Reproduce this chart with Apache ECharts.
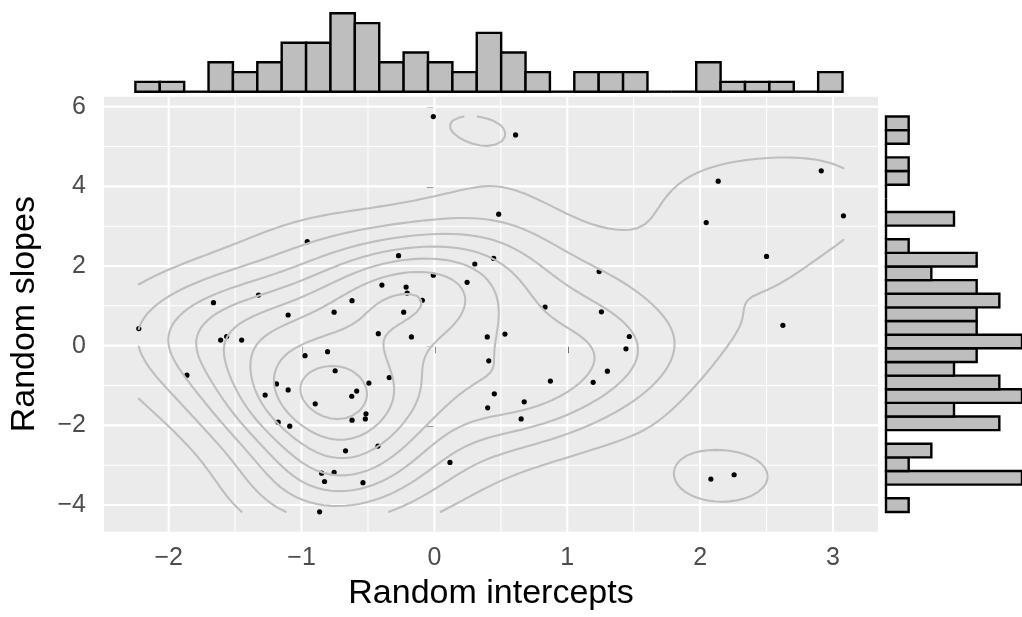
<!DOCTYPE html>
<html>
<head>
<meta charset="utf-8">
<script src="https://cdn.jsdelivr.net/npm/echarts@6/dist/echarts.min.js"></script>
<style>
  html, body { margin: 0; padding: 0; background: #fff; }
  #chart { width: 1022px; height: 617px; }
</style>
</head>
<body>
<div id="chart"></div>
<script>
// points
var interceptVals = [-0.008, 0.484, -0.957, -0.270, 0.446, 0.304, -0.008, 0.246, -1.663, -1.324,
  -1.101, -0.755, -0.620, -0.395, -0.213, -0.205, -0.091, -0.231, 0.611, 2.136,
  2.912, 3.079, 2.046, 2.500, 1.240, 0.833, 1.257, 2.623, -2.225, -0.422,
  -0.173, 0.398, 0.531, -1.564, -1.609, -1.451, 0.409, -0.974, -0.804, -1.863,
  -0.747, -0.340, -0.493, -1.189, -1.101, -0.585, -0.622, -1.274, -0.897, -0.515,
  -0.520, -0.620, -1.176, -1.089, -0.425, -0.669, 0.117, -0.849, -0.755, -0.827,
  -0.538, -0.864, 0.401, 0.451, 1.467, 1.442, 1.302, 1.195, 0.873, 0.676,
  0.653, 2.081, 2.256];
var slopeVals = [5.75, 3.30, 2.61, 2.26, 2.19, 2.05, 1.77, 1.59, 1.08, 1.27,
  0.77, 0.84, 1.13, 1.52, 1.47, 1.32, 1.14, 0.84, 5.29, 4.13,
  4.39, 3.26, 3.09, 2.24, 1.86, 0.97, 0.85, 0.51, 0.43, 0.30,
  0.22, 0.22, 0.29, 0.23, 0.14, 0.14, -0.38, -0.25, -0.15, -0.74,
  -0.63, -0.80, -0.94, -0.96, -1.11, -1.14, -1.27, -1.24, -1.46, -1.71,
  -1.84, -1.87, -1.92, -2.02, -2.52, -2.64, -2.93, -3.20, -3.18, -3.41,
  -3.44, -4.17, -1.56, -1.21, 0.23, -0.08, -0.64, -0.92, -0.89, -1.41,
  -1.84, -3.35, -3.24];

var xTicks = [-2, -1, 0, 1, 2, 3];
var xMinor = [-1.5, -0.5, 0.5, 1.5, 2.5];
var yTicks = [-4, -2, 0, 2, 4, 6];
var yMinor = [-3, -1, 1, 3, 5];

// marginal histograms (counts per bin)
var topBinStart = -2.222, topBinWidth = 0.1826;
var topCounts = [1, 1, 0, 3, 2, 3, 5, 5, 8, 7, 3, 4, 3, 2, 6, 4, 2, 0, 2, 2, 2, 0, 0, 3, 1, 1, 1, 0, 2];
var rightBinStart = -4.174, rightBinWidth = 0.3423;
var rightCounts = [1, 0, 6, 1, 2, 0, 5, 3, 6, 5, 3, 4, 6, 4, 4, 5, 4, 2, 4, 1, 0, 3, 0, 0, 1, 1, 0, 1, 1];

var xMin = -2.487, xMax = 3.339, yMin = -4.67, yMax = 6.25;
var contourBins = 10;

// ---- 2d density (like MASS::kde2d with bandwidth.nrd) ----
function quantile(arr, p) {
  var s = arr.slice().sort(function (a, b) { return a - b; });
  var h = (s.length - 1) * p, lo = Math.floor(h);
  var hi = Math.min(lo + 1, s.length - 1);
  return s[lo] + (h - lo) * (s[hi] - s[lo]);
}
function bandwidthNrd(x) {
  var n = x.length, m = 0, v = 0;
  x.forEach(function (d) { m += d; });
  m /= n;
  x.forEach(function (d) { v += (d - m) * (d - m); });
  v /= (n - 1);
  var iqr = (quantile(x, 0.75) - quantile(x, 0.25)) / 1.34;
  return 4 * 1.06 * Math.min(Math.sqrt(v), iqr) * Math.pow(n, -0.2);
}
function dnorm(u) { return Math.exp(-0.5 * u * u) / Math.sqrt(2 * Math.PI); }

var N = 100;
var lx0 = Math.min.apply(null, interceptVals), lx1 = Math.max.apply(null, interceptVals);
var ly0 = Math.min.apply(null, slopeVals), ly1 = Math.max.apply(null, slopeVals);
var hx = bandwidthNrd(interceptVals) / 4, hy = bandwidthNrd(slopeVals) / 4;
var gx = [], gy = [];
for (var i = 0; i < N; i++) {
  gx.push(lx0 + (lx1 - lx0) * i / (N - 1));
  gy.push(ly0 + (ly1 - ly0) * i / (N - 1));
}
var z = [], zlo = Infinity, zhi = -Infinity;
for (var i = 0; i < N; i++) {
  z.push([]);
  for (var j = 0; j < N; j++) {
    var s = 0;
    for (var k = 0; k < interceptVals.length; k++) {
      s += dnorm((gx[i] - interceptVals[k]) / hx) * dnorm((gy[j] - slopeVals[k]) / hy);
    }
    s /= (interceptVals.length * hx * hy);
    z[i].push(s);
    if (s < zlo) zlo = s;
    if (s > zhi) zhi = s;
  }
}

// contour breaks the way ggplot2 does it when bins is given
function binBreaks(lo, hi, bins) {
  var d = hi - lo;
  var p = Math.pow(10, Math.floor(Math.log10(d)));
  var acc = Math.round(d / p) * p / 10;
  lo = Math.floor(lo / acc) * acc;
  hi = Math.ceil(hi / acc) * acc;
  var bw = (hi - lo) / (bins - 1);
  var out = [];
  for (var k = Math.floor(lo / bw + 1e-9); k <= Math.ceil(hi / bw - 1e-9); k++) out.push(k * bw);
  return out;
}

function isoSegments(L) {
  var segs = [];
  function pt(i1, j1, i2, j2) {
    var v1 = z[i1][j1], v2 = z[i2][j2], t = (L - v1) / (v2 - v1);
    return [gx[i1] + t * (gx[i2] - gx[i1]), gy[j1] + t * (gy[j2] - gy[j1])];
  }
  for (var i = 0; i < N - 1; i++) {
    for (var j = 0; j < N - 1; j++) {
      var a = z[i][j], b = z[i + 1][j], c = z[i + 1][j + 1], d = z[i][j + 1];
      var A = a >= L, B = b >= L, C = c >= L, D = d >= L;
      var e = {};
      if (A !== B) e.bottom = ['h' + i + '_' + j, pt(i, j, i + 1, j)];
      if (B !== C) e.right = ['v' + (i + 1) + '_' + j, pt(i + 1, j, i + 1, j + 1)];
      if (D !== C) e.top = ['h' + i + '_' + (j + 1), pt(i, j + 1, i + 1, j + 1)];
      if (A !== D) e.left = ['v' + i + '_' + j, pt(i, j, i, j + 1)];
      var ks = Object.keys(e);
      if (ks.length === 2) {
        segs.push([e[ks[0]][0], e[ks[0]][1], e[ks[1]][0], e[ks[1]][1]]);
      } else if (ks.length === 4) {
        var centre = (a + b + c + d) / 4 >= L;
        var pairs = (A === centre) ? [['bottom', 'right'], ['top', 'left']] : [['bottom', 'left'], ['right', 'top']];
        pairs.forEach(function (p) {
          segs.push([e[p[0]][0], e[p[0]][1], e[p[1]][0], e[p[1]][1]]);
        });
      }
    }
  }
  return segs;
}

function joinSegments(segs) {
  var byKey = {};
  segs.forEach(function (s, idx) {
    (byKey[s[0]] = byKey[s[0]] || []).push(idx);
    (byKey[s[2]] = byKey[s[2]] || []).push(idx);
  });
  var used = segs.map(function () { return false; });
  var lines = [];
  function walk(idx, key) {
    var s = segs[idx];
    var pts = [key === s[0] ? s[1] : s[3]];
    while (idx !== -1 && !used[idx]) {
      used[idx] = true;
      s = segs[idx];
      var otherKey = key === s[0] ? s[2] : s[0];
      pts.push(key === s[0] ? s[3] : s[1]);
      var next = -1;
      (byKey[otherKey] || []).forEach(function (m) { if (!used[m]) next = m; });
      idx = next;
      key = otherKey;
    }
    return pts;
  }
  Object.keys(byKey).forEach(function (key) {
    if (byKey[key].length === 1 && !used[byKey[key][0]]) lines.push(walk(byKey[key][0], key));
  });
  segs.forEach(function (s, idx) { if (!used[idx]) lines.push(walk(idx, s[0])); });
  return lines;
}

var contourLines = [];
binBreaks(zlo, zhi, contourBins).forEach(function (L) {
  if (L <= zlo || L >= zhi) return;
  contourLines = contourLines.concat(joinSegments(isoSegments(L)));
});

// ---- chart ----
var minus = function (v) { return v < 0 ? '\u2212' + Math.abs(v) : String(v); };
var font = 'Liberation Sans';

var topData = topCounts.map(function (c, i) {
  return [topBinStart + i * topBinWidth, topBinStart + (i + 1) * topBinWidth, c];
});
var rightData = rightCounts.map(function (c, i) {
  return [rightBinStart + i * rightBinWidth, rightBinStart + (i + 1) * rightBinWidth, c];
});
var gridX = xMinor.map(function (v) { return [v, 1.05]; }).concat(xTicks.map(function (v) { return [v, 2.1]; }));
var gridY = yMinor.map(function (v) { return [v, 1.05]; }).concat(yTicks.map(function (v) { return [v, 2.1]; }));

var chart = echarts.init(document.getElementById('chart'), null, { renderer: 'canvas' });
chart.setOption({
  animation: false,
  backgroundColor: '#ffffff',
  textStyle: { fontFamily: font },
  grid: [
    { left: 100, top: 96.7, width: 778, height: 435, show: true, backgroundColor: '#EBEBEB', borderWidth: 0 },
    { left: 100, top: 13.3, width: 778, height: 78.4, show: false },
    { left: 886, top: 96.7, width: 140.4, height: 435, show: false }
  ],
  xAxis: [
    {
      gridIndex: 0, type: 'value', min: xMin, max: xMax,
      name: 'Random intercepts', nameLocation: 'middle', nameGap: 45,
      nameTextStyle: { fontSize: 34, color: '#000', fontFamily: font },
      axisLine: { show: false },
      axisTick: { show: true, length: 7.5, customValues: xTicks, lineStyle: { color: '#333333', width: 2 } },
      axisLabel: { customValues: xTicks, formatter: minus, margin: 14, fontSize: 25, color: '#4D4D4D', fontFamily: font },
      splitLine: { show: false }
    },
    { gridIndex: 1, type: 'value', min: xMin, max: xMax, show: false },
    { gridIndex: 2, type: 'value', min: 0, max: 6, show: false }
  ],
  yAxis: [
    {
      gridIndex: 0, type: 'value', min: yMin, max: yMax,
      name: 'Random slopes', nameLocation: 'middle', nameGap: 62, nameRotate: 90,
      nameTextStyle: { fontSize: 34, color: '#000', fontFamily: font },
      axisLine: { show: false },
      axisTick: { show: true, length: 7.5, customValues: yTicks, lineStyle: { color: '#333333', width: 2 } },
      axisLabel: { customValues: yTicks, formatter: minus, margin: 18, fontSize: 25, color: '#4D4D4D', fontFamily: font },
      splitLine: { show: false }
    },
    { gridIndex: 1, type: 'value', min: 0, max: 8, show: false },
    { gridIndex: 2, type: 'value', min: yMin, max: yMax, show: false }
  ],
  series: [
    {
      type: 'custom', xAxisIndex: 0, yAxisIndex: 0, z: 1, silent: true,
      data: gridX,
      renderItem: function (params, api) {
        var a = api.coord([api.value(0), yMin]), b = api.coord([api.value(0), yMax]);
        return { type: 'line', shape: { x1: a[0], y1: a[1], x2: b[0], y2: b[1] }, style: { stroke: '#ffffff', lineWidth: api.value(1) } };
      }
    },
    {
      type: 'custom', xAxisIndex: 0, yAxisIndex: 0, z: 1, silent: true,
      data: gridY,
      encode: { x: 1, y: 0 },
      renderItem: function (params, api) {
        var a = api.coord([xMin, api.value(0)]), b = api.coord([xMax, api.value(0)]);
        return { type: 'line', shape: { x1: a[0], y1: a[1], x2: b[0], y2: b[1] }, style: { stroke: '#ffffff', lineWidth: api.value(1) } };
      }
    },
    {
      type: 'scatter', xAxisIndex: 0, yAxisIndex: 0, z: 2, silent: true,
      symbolSize: 5.2,
      itemStyle: { color: '#000000', opacity: 1 },
      data: interceptVals.map(function (x, i) { return [x, slopeVals[i]]; })
    },
    {
      type: 'custom', xAxisIndex: 0, yAxisIndex: 0, z: 3, silent: true,
      data: contourLines.map(function (l, i) { return [l[0][0], l[0][1]]; }),
      renderItem: function (params, api) {
        var line = contourLines[params.dataIndex];
        return {
          type: 'polyline',
          shape: { points: line.map(function (p) { return api.coord(p); }) },
          style: { stroke: '#BEBEBE', lineWidth: 2.1, fill: 'none', lineJoin: 'round', lineCap: 'round' }
        };
      }
    },
    {
      type: 'custom', xAxisIndex: 1, yAxisIndex: 1, silent: true,
      data: topData,
      encode: { x: [0, 1], y: 2 },
      renderItem: function (params, api) {
        var a = api.coord([api.value(0), 0]), b = api.coord([api.value(1), api.value(2)]);
        if (api.value(2) === 0) {
          return { type: 'line', shape: { x1: a[0], y1: a[1], x2: b[0], y2: a[1] }, style: { stroke: '#000', lineWidth: 2.4 } };
        }
        return { type: 'rect', shape: { x: a[0], y: b[1], width: b[0] - a[0], height: a[1] - b[1] }, style: { fill: '#BEBEBE', stroke: '#000', lineWidth: 2.4 } };
      }
    },
    {
      type: 'custom', xAxisIndex: 2, yAxisIndex: 2, silent: true,
      data: rightData,
      encode: { x: 2, y: [0, 1] },
      renderItem: function (params, api) {
        var a = api.coord([0, api.value(0)]), b = api.coord([api.value(2), api.value(1)]);
        if (api.value(2) === 0) {
          return { type: 'line', shape: { x1: a[0], y1: a[1], x2: a[0], y2: b[1] }, style: { stroke: '#000', lineWidth: 2.4 } };
        }
        return { type: 'rect', shape: { x: a[0], y: b[1], width: b[0] - a[0], height: a[1] - b[1] }, style: { fill: '#BEBEBE', stroke: '#000', lineWidth: 2.4 } };
      }
    }
  ]
});
</script>
</body>
</html>
